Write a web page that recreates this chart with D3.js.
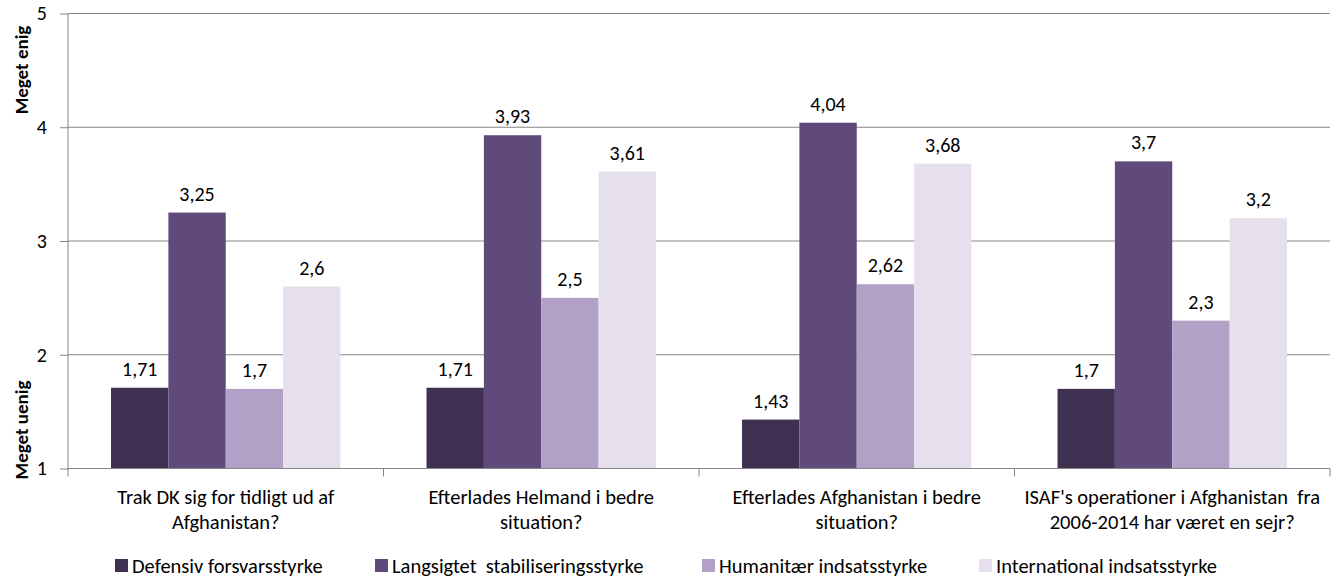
<!DOCTYPE html>
<html><head><meta charset="utf-8">
<script src="https://cdn.jsdelivr.net/npm/d3@7"></script>
<style>
body{margin:0;background:#fff;}
text{font-family:Carlito, Calibri, Lato, "Liberation Sans", sans-serif;fill:#000;}
</style></head>
<body><svg id="c" width="1341" height="582"></svg>
<script>
const categories = [
  ["Trak DK sig for tidligt ud af", "Afghanistan?"],
  ["Efterlades Helmand i bedre", "situation?"],
  ["Efterlades Afghanistan i bedre", "situation?"],
  ["ISAF's operationer i Afghanistan  fra", "2006-2014 har været en sejr?"]
];
const seriesNames = ["Defensiv forsvarsstyrke", "Langsigtet  stabiliseringsstyrke", "Humanitær indsatsstyrke", "International indsatsstyrke"];
const defensiv = [1.71, 1.71, 1.43, 1.7];
const langsigtet = [3.25, 3.93, 4.04, 3.7];
const humanitaer = [1.7, 2.5, 2.62, 2.3];
const international = [2.6, 3.61, 3.68, 3.2];
const yTicks = [1, 2, 3, 4, 5];
const colors = ["#3F3151", "#604A7B", "#B2A1C7", "#E5E0EC"];
const seriesValues = [defensiv, langsigtet, humanitaer, international];

const FS = 20;
const svg = d3.select("#c");
const mLeft = 68, mRight = 1330, mTop = 13.5, mBottom = 468.5;
const x0 = d3.scaleBand().domain(d3.range(categories.length)).range([mLeft, mRight]).padding(0);
const x1 = d3.scaleBand().domain(d3.range(seriesNames.length)).range([0, x0.bandwidth()]).paddingInner(0).paddingOuter(0.75);
const y = d3.scaleLinear().domain([1, 5]).range([mBottom, mTop]);

// gridlines
svg.append("g").selectAll("line").data(yTicks.slice(1)).join("line")
  .attr("x1", mLeft).attr("x2", mRight).attr("y1", d => y(d)).attr("y2", d => y(d))
  .attr("stroke", "#868686").attr("stroke-width", 1);

// bars
const groups = svg.append("g").selectAll("g").data(categories).join("g")
  .attr("transform", (d, i) => `translate(${x0(i)},0)`);
groups.each(function(c, ci) {
  const g = d3.select(this);
  seriesValues.forEach((vals, si) => {
    g.append("rect").attr("x", x1(si)).attr("width", x1.bandwidth())
      .attr("y", y(vals[ci])).attr("height", y(1) - y(vals[ci]))
      .attr("fill", colors[si]);
    g.append("text").attr("x", x1(si) + x1.bandwidth() / 2).attr("y", y(vals[ci]) - 12)
      .attr("text-anchor", "middle").attr("font-size", FS)
      .text(String(vals[ci]).replace(".", ","));
  });
});

// y axis
const yAxis = svg.append("g").attr("transform", `translate(${mLeft},0)`)
  .call(d3.axisLeft(y).tickValues(yTicks).tickSize(8).tickPadding(13).tickFormat(d => d));
yAxis.select(".domain").attr("stroke", "#868686").attr("d", `M0,${mTop}V${mBottom + 1}`);
yAxis.selectAll(".tick line").attr("stroke", "#868686");
yAxis.selectAll(".tick text").attr("font-size", FS).attr("fill", "#000");

// x axis
const xAxisG = svg.append("g").attr("transform", `translate(0,${mBottom})`);
xAxisG.append("line").attr("x1", mLeft).attr("x2", mRight).attr("y1", 0).attr("y2", 0)
  .attr("stroke", "#868686");
const bounds = d3.range(categories.length + 1).map(i => i < categories.length ? x0(i) : x0(i - 1) + x0.bandwidth());
xAxisG.selectAll("line.tk").data(bounds).join("line").attr("class", "tk")
  .attr("x1", d => d).attr("x2", d => d).attr("y1", 0).attr("y2", 8)
  .attr("stroke", "#868686");
categories.forEach((lines, i) => {
  const t = xAxisG.append("text").attr("text-anchor", "middle").attr("font-size", 20.5)
    .attr("x", x0(i) + x0.bandwidth() / 2).style("white-space", "pre");
  lines.forEach((l, k) => t.append("tspan").attr("x", x0(i) + x0.bandwidth() / 2).attr("y", 35 + k * 25).text(l));
});

// y titles
svg.append("text").attr("transform", `translate(28,70) rotate(-90)`).attr("text-anchor", "middle")
  .attr("font-size", 19).attr("font-weight", "bold").text("Meget enig");
svg.append("text").attr("transform", `translate(28,430) rotate(-90)`).attr("text-anchor", "middle")
  .attr("font-size", 19).attr("font-weight", "bold").text("Meget uenig");

// legend
const legendX = [115, 375, 702, 979];
const lg = svg.append("g").selectAll("g").data(seriesNames).join("g")
  .attr("transform", (d, i) => `translate(${legendX[i]},559)`);
lg.append("rect").attr("width", 13).attr("height", 13).attr("fill", (d, i) => colors[i]);
lg.append("text").attr("x", 17).attr("y", 14).attr("font-size", 20.5)
  .style("white-space", "pre").text(d => d);
</script></body></html>
